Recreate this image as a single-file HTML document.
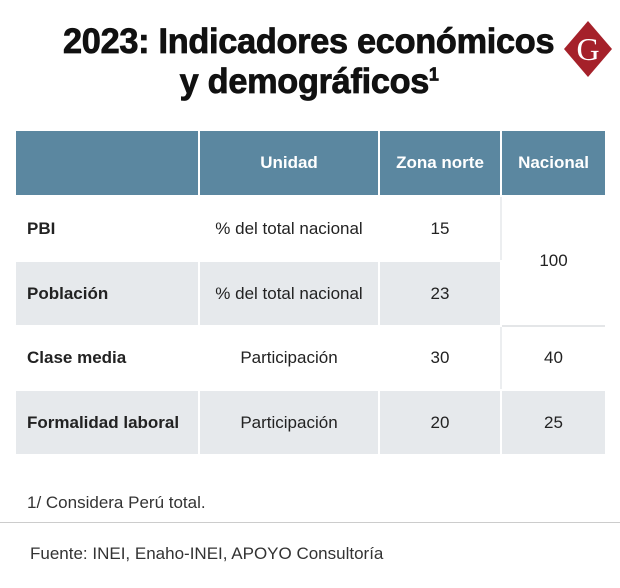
<!DOCTYPE html>
<html><head><meta charset="utf-8"><style>
body{margin:0;width:620px;height:588px;background:#fff;font-family:"Liberation Sans",sans-serif;position:relative;overflow:hidden}
.t{position:absolute;left:0;width:620px;text-align:center;font-weight:bold;font-size:35px;color:#111;letter-spacing:-0.3px;-webkit-text-stroke:0.8px #111}
.t span{display:inline-block;transform:scaleX(0.98)}
.c{position:absolute;display:flex;align-items:center;font-size:17px;color:#222}
.h{background:#5b87a0;color:#fff;font-weight:bold;justify-content:center;font-size:17px}
.g{background:#e6e9ec}
.ctr{justify-content:center}
.lbl{font-weight:bold;padding-left:11px;box-sizing:border-box}
</style></head><body>
<div class="t" style="top:22px;left:-1px"><span>2023: Indicadores económicos</span></div>
<div class="t" style="top:62px;left:-1px"><span>y demográficos<sup style="font-size:18px">1</sup></span></div>
<svg style="position:absolute;left:563px;top:20px" width="50" height="58"><polygon points="25,1 49,29 25,57 1,29" fill="#a5212a"/><text x="25" y="40" text-anchor="middle" font-family="Liberation Serif" font-size="32" fill="#fff">G</text></svg>

<div class="c h" style="left:16px;top:131px;width:182px;height:64px"></div>
<div class="c h" style="left:200px;top:131px;width:178px;height:64px">Unidad</div>
<div class="c h" style="left:380px;top:131px;width:120px;height:64px">Zona norte</div>
<div class="c h" style="left:502px;top:131px;width:103px;height:64px">Nacional</div>

<div class="c lbl" style="left:16px;top:197px;width:182px;height:63px">PBI</div>
<div class="c ctr" style="left:200px;top:197px;width:178px;height:63px">% del total nacional</div>
<div class="c ctr" style="left:380px;top:197px;width:120px;height:63px;border-right:2px solid #eceef0">15</div>

<div class="c lbl g" style="left:16px;top:262px;width:182px;height:63px">Población</div>
<div class="c ctr g" style="left:200px;top:262px;width:178px;height:63px">% del total nacional</div>
<div class="c ctr g" style="left:380px;top:262px;width:120px;height:63px">23</div>
<div class="c ctr" style="left:502px;top:197px;width:103px;height:128px;border-bottom:2px solid #e4e6e8">100</div>

<div class="c lbl" style="left:16px;top:327px;width:182px;height:62px">Clase media</div>
<div class="c ctr" style="left:200px;top:327px;width:178px;height:62px">Participación</div>
<div class="c ctr" style="left:380px;top:327px;width:120px;height:62px;border-right:2px solid #eceef0">30</div>
<div class="c ctr" style="left:502px;top:327px;width:103px;height:62px">40</div>

<div class="c lbl g" style="left:16px;top:391px;width:182px;height:63px">Formalidad laboral</div>
<div class="c ctr g" style="left:200px;top:391px;width:178px;height:63px">Participación</div>
<div class="c ctr g" style="left:380px;top:391px;width:120px;height:63px">20</div>
<div class="c ctr g" style="left:502px;top:391px;width:103px;height:63px">25</div>

<div class="c" style="left:27px;top:493px;font-size:17px;color:#333">1/ Considera Perú total.</div>
<div style="position:absolute;left:0;top:522px;width:620px;height:1px;background:#ccc"></div>
<div class="c" style="left:30px;top:544px;font-size:17px;color:#333">Fuente: INEI, Enaho-INEI, APOYO Consultoría</div>
</body></html>
